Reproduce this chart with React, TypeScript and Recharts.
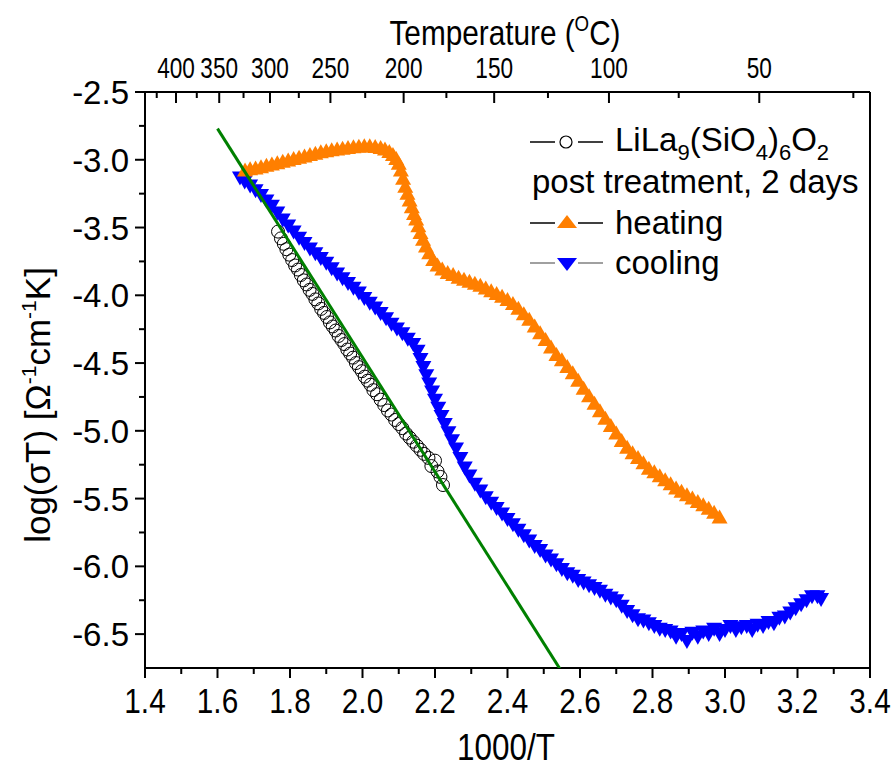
import { ScatterChart, Scatter, XAxis, YAxis, Legend, ReferenceLine } from 'recharts'

const FONT = "'Liberation Sans', Arial, sans-serif"

// 1000/T axis ticks (minor every 0.1, labelled every 0.2)
const xTicks = [1.4, 1.5, 1.6, 1.7, 1.8, 1.9, 2.0, 2.1, 2.2, 2.3, 2.4, 2.5, 2.6, 2.7, 2.8, 2.9, 3.0, 3.1, 3.2, 3.3, 3.4]
// log(sigma T) ticks (minor every 0.25, labelled every 0.5)
const yTicks = [-6.5, -6.25, -6.0, -5.75, -5.5, -5.25, -5.0, -4.75, -4.5, -4.25, -4.0, -3.75, -3.5, -3.25, -3.0, -2.75, -2.5]
// top axis, temperature in degrees C (labelled every 50)
const tempTicks = [425, 400, 375, 350, 325, 300, 275, 250, 225, 200, 175, 150, 125, 100, 75, 50, 25]

// LiLa9(SiO4)6O2 reference sample
const reference = [
  [1.767, -3.53], [1.775, -3.58], [1.783, -3.62], [1.79, -3.66], [1.798, -3.7], [1.806, -3.74],
  [1.814, -3.78], [1.822, -3.81], [1.83, -3.85], [1.838, -3.89], [1.846, -3.92], [1.854, -3.96],
  [1.862, -3.99], [1.87, -4.03], [1.878, -4.06], [1.886, -4.1], [1.894, -4.13], [1.902, -4.16],
  [1.91, -4.2], [1.918, -4.23], [1.926, -4.26], [1.934, -4.3], [1.942, -4.33], [1.95, -4.36],
  [1.958, -4.4], [1.966, -4.43], [1.974, -4.46], [1.982, -4.5], [1.99, -4.53], [1.998, -4.56],
  [2.006, -4.6], [2.014, -4.63], [2.022, -4.66], [2.03, -4.7], [2.04, -4.73], [2.05, -4.77],
  [2.06, -4.81], [2.07, -4.85], [2.08, -4.88], [2.09, -4.92], [2.1, -4.95], [2.11, -4.98],
  [2.12, -5.02], [2.13, -5.05], [2.14, -5.08], [2.15, -5.11], [2.16, -5.14], [2.17, -5.17],
  [2.182, -5.2], [2.19, -5.26], [2.2, -5.22], [2.207, -5.3], [2.215, -5.34], [2.222, -5.4],
]

// post treatment, heating
const heating = [
  [1.676, -3.08], [1.69, -3.07], [1.705, -3.065], [1.72, -3.055], [1.735, -3.045], [1.75, -3.035],
  [1.765, -3.025], [1.78, -3.015], [1.795, -3.005], [1.81, -2.995], [1.825, -2.985], [1.84, -2.975],
  [1.855, -2.965], [1.87, -2.955], [1.885, -2.945], [1.9, -2.938], [1.915, -2.93], [1.93, -2.925],
  [1.945, -2.918], [1.96, -2.913], [1.975, -2.908], [1.99, -2.904], [2.005, -2.901], [2.02, -2.9],
  [2.035, -2.905], [2.05, -2.913], [2.062, -2.925], [2.074, -2.942], [2.084, -2.965], [2.093, -2.995],
  [2.1, -3.03], [2.106, -3.08], [2.112, -3.14], [2.118, -3.2], [2.124, -3.25], [2.13, -3.3],
  [2.136, -3.35], [2.142, -3.4], [2.148, -3.44], [2.154, -3.49], [2.16, -3.54], [2.167, -3.59],
  [2.175, -3.64], [2.184, -3.69], [2.195, -3.74], [2.207, -3.78], [2.22, -3.81], [2.235, -3.835],
  [2.25, -3.85], [2.265, -3.87], [2.28, -3.885], [2.295, -3.9], [2.31, -3.915], [2.325, -3.93],
  [2.34, -3.95], [2.355, -3.97], [2.37, -3.99], [2.385, -4.01], [2.4, -4.035], [2.415, -4.065],
  [2.43, -4.1], [2.445, -4.14], [2.46, -4.18], [2.475, -4.23], [2.49, -4.28], [2.505, -4.33],
  [2.52, -4.385], [2.535, -4.44], [2.55, -4.48], [2.565, -4.53], [2.58, -4.575], [2.595, -4.63],
  [2.61, -4.69], [2.625, -4.745], [2.64, -4.8], [2.655, -4.855], [2.67, -4.91], [2.685, -4.965],
  [2.7, -5.02], [2.715, -5.075], [2.73, -5.125], [2.745, -5.165], [2.76, -5.2], [2.775, -5.24],
  [2.79, -5.28], [2.805, -5.305], [2.82, -5.335], [2.835, -5.365], [2.85, -5.395], [2.865, -5.425],
  [2.88, -5.45], [2.895, -5.475], [2.91, -5.5], [2.925, -5.525], [2.94, -5.55], [2.955, -5.575],
  [2.97, -5.605], [2.985, -5.64],
]

// post treatment, cooling
const cooling = [
  [1.662, -3.13], [1.675, -3.16], [1.69, -3.19], [1.705, -3.225], [1.72, -3.26], [1.735, -3.3],
  [1.75, -3.34], [1.765, -3.39], [1.78, -3.44], [1.795, -3.485], [1.81, -3.53], [1.825, -3.575],
  [1.84, -3.615], [1.855, -3.655], [1.87, -3.69], [1.885, -3.725], [1.9, -3.76], [1.915, -3.8],
  [1.93, -3.84], [1.945, -3.875], [1.96, -3.91], [1.975, -3.945], [1.99, -3.98], [2.005, -4.02],
  [2.02, -4.055], [2.035, -4.09], [2.05, -4.13], [2.065, -4.17], [2.08, -4.21], [2.095, -4.245],
  [2.11, -4.28], [2.125, -4.32], [2.14, -4.36], [2.152, -4.41], [2.16, -4.47], [2.168, -4.53],
  [2.176, -4.59], [2.184, -4.65], [2.192, -4.71], [2.2, -4.77], [2.209, -4.83], [2.218, -4.89],
  [2.227, -4.95], [2.237, -5.01], [2.247, -5.07], [2.258, -5.13], [2.27, -5.2], [2.282, -5.27],
  [2.295, -5.33], [2.31, -5.39], [2.325, -5.44], [2.34, -5.49], [2.355, -5.53], [2.37, -5.57],
  [2.385, -5.61], [2.4, -5.65], [2.415, -5.69], [2.43, -5.73], [2.445, -5.77], [2.46, -5.81],
  [2.475, -5.85], [2.49, -5.88], [2.505, -5.92], [2.52, -5.95], [2.535, -5.985], [2.55, -6.02],
  [2.565, -6.05], [2.58, -6.07], [2.595, -6.1], [2.61, -6.12], [2.625, -6.14], [2.64, -6.16],
  [2.655, -6.18], [2.67, -6.21], [2.685, -6.23], [2.7, -6.25], [2.715, -6.29], [2.73, -6.33],
  [2.745, -6.36], [2.76, -6.39], [2.775, -6.4], [2.79, -6.42], [2.805, -6.44], [2.82, -6.46],
  [2.835, -6.47], [2.85, -6.48], [2.865, -6.52], [2.88, -6.5], [2.895, -6.55], [2.91, -6.49],
  [2.925, -6.52], [2.94, -6.48], [2.955, -6.5], [2.97, -6.46], [2.985, -6.5], [3.0, -6.47],
  [3.015, -6.44], [3.03, -6.47], [3.045, -6.45], [3.06, -6.44], [3.075, -6.47], [3.09, -6.43],
  [3.105, -6.44], [3.12, -6.41], [3.135, -6.42], [3.15, -6.38], [3.165, -6.37], [3.18, -6.34],
  [3.195, -6.31], [3.21, -6.28], [3.225, -6.25], [3.24, -6.22], [3.255, -6.22], [3.265, -6.24],
]

// linear Arrhenius fit (green)
const fit = [[1.6, -2.77], [2.555, -6.8]]

const toPts = (arr: number[][]) => arr.map(([x, y]) => ({ x, y }))

const UpTri = ({ cx, cy, fill }: any) => (
  <path d={`M${cx},${cy - 8}L${cx + 8},${cy + 6}L${cx - 8},${cy + 6}Z`} fill={fill} />
)
const DownTri = ({ cx, cy, fill }: any) => (
  <path d={`M${cx},${cy + 8}L${cx + 8},${cy - 6}L${cx - 8},${cy - 6}Z`} fill={fill} />
)
const OpenCircle = ({ cx, cy }: any) => (
  <circle cx={cx} cy={cy} r={6.5} fill="none" stroke="#000" strokeWidth={1} />
)

const BottomTick = ({ x, y, payload }: any) => {
  const v = payload.value
  const major = Math.round(v * 10) % 2 === 0
  return (
    <g>
      <line x1={x} x2={x} y1={y} y2={y + (major ? 10 : 6)} stroke="#000" strokeWidth={2} />
      {major && (
        <text transform={`translate(${x},${y + 45}) scale(0.85,1)`} textAnchor="middle"
          fontFamily={FONT} fontSize={35} fill="#000">{v.toFixed(1)}</text>
      )}
    </g>
  )
}

const LeftTick = ({ x, y, payload }: any) => {
  const v = payload.value
  const major = Math.round(v * 100) % 50 === 0
  return (
    <g>
      <line x1={x} x2={x - (major ? 10 : 6)} y1={y} y2={y} stroke="#000" strokeWidth={2} />
      {major && (
        <text x={x - 16} y={y + 12} textAnchor="end" fontFamily={FONT} fontSize={33} fill="#000">
          {v.toFixed(1)}
        </text>
      )}
    </g>
  )
}

const TopTick = ({ x, y, payload }: any) => {
  const t = Math.round(1000 / payload.value - 273.15)
  const major = t % 50 === 0
  return (
    <g>
      <line x1={x} x2={x} y1={y} y2={y + (major ? 11 : 6)} stroke="#000" strokeWidth={2} />
      {major && (
        <text transform={`translate(${x},${y - 14}) scale(0.78,1)`} textAnchor="middle"
          fontFamily={FONT} fontSize={29} fill="#000">{t}</text>
      )}
    </g>
  )
}

const LegendBox = () => (
  <svg width={370} height={175} style={{ overflow: 'visible' }}>
    <g fontFamily={FONT} fontSize={33} fill="#000">
      <line x1={10} x2={35} y1={24} y2={24} stroke="#000" strokeWidth={1.5} />
      <circle cx={46} cy={24} r={6} fill="none" stroke="#000" strokeWidth={1.2} />
      <line x1={58} x2={83} y1={24} y2={24} stroke="#000" strokeWidth={1.5} />
      <text x={95} y={33}>
        LiLa<tspan dy={9} fontSize={22}>9</tspan><tspan dy={-9}>(SiO</tspan>
        <tspan dy={9} fontSize={22}>4</tspan><tspan dy={-9}>)</tspan>
        <tspan dy={9} fontSize={22}>6</tspan><tspan dy={-9}>O</tspan>
        <tspan dy={9} fontSize={22}>2</tspan>
      </text>
      <text x={12} y={75}>post treatment, 2 days</text>
      <line x1={10} x2={35} y1={105} y2={105} stroke="#000" strokeWidth={1.5} />
      <path d="M47,97L57,110L37,110Z" fill="#ff7f00" />
      <line x1={58} x2={83} y1={105} y2={105} stroke="#000" strokeWidth={1.5} />
      <text x={95} y={116}>heating</text>
      <line x1={10} x2={35} y1={145} y2={145} stroke="#808080" strokeWidth={1.5} />
      <path d="M47,153L57,140L37,140Z" fill="#0000ff" />
      <line x1={58} x2={83} y1={145} y2={145} stroke="#808080" strokeWidth={1.5} />
      <text x={95} y={156}>cooling</text>
    </g>
  </svg>
)

export default function App() {
  return (
    <div style={{ position: 'absolute', left: 0, top: 0, background: '#fff' }}>
      <ScatterChart width={896} height={772} margin={{ top: 0, right: 26, bottom: 0, left: 0 }}>
        <XAxis xAxisId="bottom" dataKey="x" type="number" domain={[1.4, 3.4]} allowDataOverflow
          ticks={xTicks} interval={0} height={104} tickSize={0} tickMargin={0} tickLine={false}
          axisLine={{ stroke: '#000', strokeWidth: 2 }} tick={<BottomTick />}
          label={{
            content: () => (
              <text transform="translate(506,760) scale(0.85,1)" textAnchor="middle"
                fontFamily={FONT} fontSize={37} fill="#000">1000/T</text>
            ),
          }} />
        <XAxis xAxisId="top" orientation="top" dataKey="x" type="number" domain={[1.4, 3.4]} allowDataOverflow
          ticks={tempTicks.map(t => 1000 / (t + 273.15))} interval={0} height={92} tickSize={0} tickMargin={0}
          tickLine={false} axisLine={{ stroke: '#000', strokeWidth: 2 }} tick={<TopTick />}
          label={{
            content: () => (
              <text transform="translate(505,45) scale(0.85,1)" textAnchor="middle"
                fontFamily={FONT} fontSize={35} fill="#000">
                Temperature (<tspan dy={-14} fontSize={22}>O</tspan><tspan dy={14}>C)</tspan>
              </text>
            ),
          }} />
        <YAxis yAxisId="left" dataKey="y" type="number" domain={[-6.75, -2.5]} allowDataOverflow
          ticks={yTicks} interval={0} width={145} tickSize={0} tickMargin={0} tickLine={false}
          axisLine={{ stroke: '#000', strokeWidth: 2 }} tick={<LeftTick />}
          label={{
            content: () => (
              <text transform="translate(50,405) rotate(-90)" textAnchor="middle"
                fontFamily={FONT} fontSize={35} fill="#000">
                log(σT) [Ω<tspan dy={-14} fontSize={21}>-1</tspan><tspan dy={14}>cm</tspan>
                <tspan dy={-14} fontSize={21}>-1</tspan><tspan dy={14}>K]</tspan>
              </text>
            ),
          }} />
        <ReferenceLine xAxisId="bottom" yAxisId="left" x={3.4} stroke="#000" strokeWidth={2} />
        <Legend layout="horizontal" verticalAlign="middle" align="center" content={() => <LegendBox />}
          wrapperStyle={{ position: 'absolute', left: 520, top: 118, width: 370, height: 175 }} />
        <Scatter xAxisId="bottom" yAxisId="left" data={toPts(reference)} shape={<OpenCircle />}
          isAnimationActive={false} />
        <Scatter xAxisId="bottom" yAxisId="left" data={toPts(cooling)} fill="#0000ff" shape={<DownTri />}
          isAnimationActive={false} />
        <Scatter xAxisId="bottom" yAxisId="left" data={toPts(heating)} fill="#ff7f00" shape={<UpTri />}
          isAnimationActive={false} />
        <Scatter xAxisId="top" yAxisId="left" data={toPts(fit)} line={{ stroke: '#008000', strokeWidth: 3 }}
          shape={() => <g />} isAnimationActive={false} />
      </ScatterChart>
    </div>
  )
}
